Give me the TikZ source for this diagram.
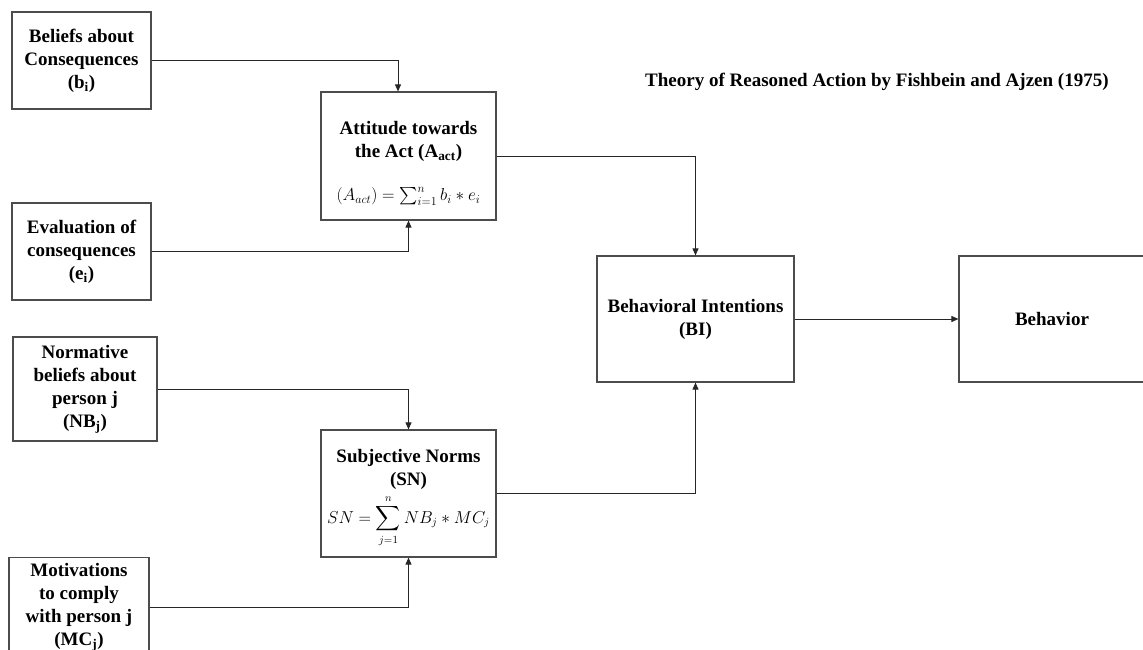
\documentclass[tikz,border=0pt]{standalone}
\usepackage{amsmath}
\usepackage{fontspec}
\setmainfont{Liberation Serif}
\usetikzlibrary{arrows.meta,calc}
\begin{document}
\begin{tikzpicture}[x=1pt,y=-1pt,
  box/.style={draw=black!70,line width=1.2pt,rectangle,inner sep=0pt,align=center,
    font=\fontsize{19}{23}\selectfont\bfseries},
  link/.style={draw=black!85,line width=0.9pt,-{Triangle[length=7pt,width=6pt]}}
]
\useasboundingbox (0,0) rectangle (1143,650);
\clip (0,0) rectangle (1143,650);

% title
\node[anchor=base west,inner sep=0pt,font=\fontsize{19}{23}\selectfont\bfseries] (title) at (645,87)
  {Theory of Reasoned Action by Fishbein and Ajzen (1975)};

% input boxes
\node[box,minimum width=139pt,minimum height=97pt] (bel) at (81.5,60.5)
  {Beliefs about\\Consequences\\(b\textsubscript{i})};
\node[box,minimum width=139pt,minimum height=97pt] (eva) at (81.5,251.5)
  {Evaluation of\\consequences\\(e\textsubscript{i})};
\node[box,minimum width=144pt,minimum height=104pt] (nb) at (85,389)
  {Normative\\beliefs about\\person j\\(NB\textsubscript{j})};
\node[box,minimum width=140pt,minimum height=99pt] (mc) at (79,607)
  {Motivations\\to comply\\with person j\\(MC\textsubscript{j})};

% intermediate constructs (struts push the text block slightly down)
\node[box,minimum width=175pt,minimum height=128pt] (att) at (408.5,156)
  {\rule{0pt}{28pt}Attitude towards\\the Act (A\textsubscript{act})\\[20pt]
   {\fontsize{17.28}{20}\selectfont$(A_{act}) = \sum_{i=1}^{n} b_i * e_i$}};
\node[box,minimum width=175pt,minimum height=127pt] (sn) at (408.5,493.5)
  {\rule{0pt}{22pt}Subjective Norms\\(SN)\\[5pt]
   {\fontsize{16}{19}\selectfont$\displaystyle SN = \sum_{j=1}^{n} NB_j * MC_j$}};

% outcome boxes
\node[box,minimum width=197pt,minimum height=126pt] (bi) at (695.5,319)
  {Behavioral Intentions\\(BI)};
\node[box,minimum width=186pt,minimum height=126pt] (beh) at (1052,319)
  {Behavior};

% connectors
\draw[link] (bel.east) -| ($(att.north)+(-10.5,0)$);
\draw[link] (eva.east) -| (att.south);
\draw[link] (nb.east) -| (sn.north);
\draw[link] (mc.east) -| (sn.south);
\draw[link] (att.east) -| (bi.north);
\draw[link] (sn.east) -| (bi.south);
\draw[link] (bi.east) -- (beh.west);
\end{tikzpicture}
\end{document}
